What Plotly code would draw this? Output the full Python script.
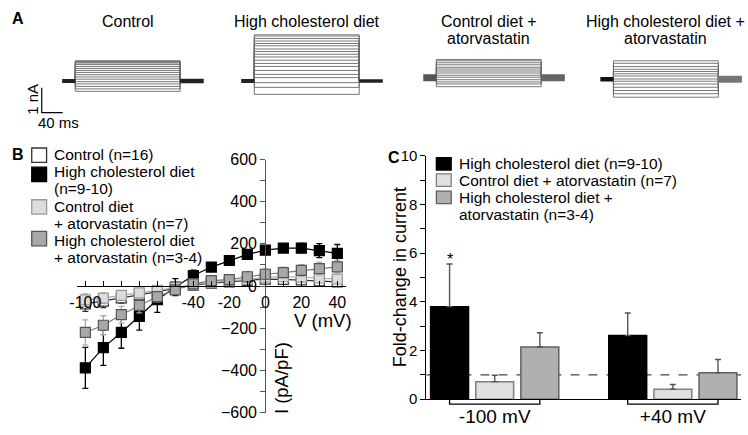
import plotly.graph_objects as go

W, H = 748, 435
FONT = "Liberation Sans, Arial, Helvetica, sans-serif"


def px(x):
    return x / W


def py(y):
    return 1 - y / H


# ---------------- Panel A: whole-cell current traces (nA, relative to holding) ----------------
a_titles = [["Control"], ["High cholesterol diet"],
            ["Control diet +", "atorvastatin"], ["High cholesterol diet +", "atorvastatin"]]
sweeps_control = [0.81, 0.78, 0.75, 0.72, 0.66, 0.58, 0.50, 0.42, 0.34, 0.25, 0.16, 0.07,
                  -0.03, -0.12, -0.22, -0.32, -0.42]
sweeps_hc = [1.85, 1.80, 1.70, 1.60, 1.50, 1.41, 1.28, 1.18, 1.07, 0.96, 0.83, 0.70, 0.58,
             0.42, 0.26, 0.13, -0.07, -0.26, -0.54]
sweeps_ca = [0.73, 0.68, 0.60, 0.52, 0.42, 0.35, 0.27, 0.19, 0.10, 0.02, -0.08, -0.17,
             -0.25, -0.36]
sweeps_hca = [0.74, 0.64, 0.51, 0.40, 0.31, 0.22, 0.13, 0.01, -0.08, -0.19, -0.32, -0.45,
              -0.58, -0.72]
a_sweeps = [sweeps_control, sweeps_hc, sweeps_ca, sweeps_hca]
protocol_ms = [-25, 0, 200, 245]      # holding start, step on, step off, end of tail
scale_bar_nA = 1
scale_bar_ms = 40

# ---------------- Panel B: I-V relationship (pA/pF) ----------------
voltages = [-100, -90, -80, -70, -60, -50, -40, -30, -20, -10, 0, 10, 20, 30, 40]
iv_control = [-85, -72, -56, -42, -27, -12, 4, 14, 20, 26, 33, 32, 29, 25, 20]
iv_control_err = [35, 30, 25, 20, 16, 12, 12, 12, 14, 16, 18, 20, 20, 20, 18]
iv_hc = [-388, -292, -220, -144, -65, -5, 50, 90, 121, 150, 170, 180, 180, 168, 155]
iv_hc_err = [97, 84, 75, 65, 60, 40, 25, 20, 15, 15, 18, 18, 22, 33, 42]
iv_ca = [-66, -57, -44, -32, -20, -8, 8, 18, 25, 32, 42, 44, 42, 38, 33]
iv_ca_err = [30, 26, 22, 18, 15, 12, 12, 14, 16, 18, 20, 22, 22, 22, 20]
iv_hca = [-220, -186, -136, -92, -50, -18, 10, 26, 30, 44, 56, 64, 74, 83, 91]
iv_hca_err = [60, 45, 40, 35, 25, 20, 18, 20, 20, 25, 25, 25, 28, 30, 30]
b_names = ["Control (n=16)", "High cholesterol diet<br>(n=9-10)",
           "Control diet<br>+ atorvastatin (n=7)", "High cholesterol diet<br>+ atorvastatin (n=3-4)"]
b_xtick_vals = [-100, -80, -60, -40, -20, 0, 20, 40]
b_xtick_text = ["-100", "", "", "-40", "-20", "0", "20", "40"]
b_xminor_vals = [-90, -70, -50, -30, -10, 10, 30]

# ---------------- Panel C: fold-change in current ----------------
c_groups = ["-100 mV", "+40 mV"]
fc_hc = [3.80, 2.61]
fc_hc_err = [1.75, 0.93]
fc_ca = [0.72, 0.41]
fc_ca_err = [0.26, 0.19]
fc_hca = [2.14, 1.08]
fc_hca_err = [0.59, 0.55]
fc_sig = ["*", ""]
fc_reference = 1
c_names = ["High cholesterol diet (n=9-10)", "Control diet + atorvastatin (n=7)",
           "High cholesterol diet +<br>atorvastatin (n=3-4)"]

# styles
S_CTRL = dict(fill="white", edge="#333333", line="#333333", err="#333333")
S_HC = dict(fill="black", edge="black", line="black", err="black")
S_CA = dict(fill="#dcdcdc", edge="#999999", line="#aaaaaa", err="#bbbbbb")
S_HCA = dict(fill="#a8a8a8", edge="#555555", line="#777777", err="#aaaaaa")
TXT = 15.5

fig = go.Figure()
annotations = []
shapes = []
layout_axes = {}


def note(text, x, y, size=TXT, xanchor="center", yanchor="middle", angle=0, **kw):
    d = dict(text=text, x=x, y=y, xref=kw.pop("xref", "paper"), yref=kw.pop("yref", "paper"),
             xanchor=xanchor, yanchor=yanchor, showarrow=False, textangle=angle,
             font=dict(size=size, color="black"))
    d.update(kw)
    annotations.append(d)


# ---------------- Panel A ----------------
MS_PX, NA_PX = 0.53, 26.0
T_RANGE = [-90, 250]
I_RANGE = [-1.55, 2.1]
a_t0_px = [68, 249, 433, 612]
a_hold_px = [75, 75, 71.7, 73.3]
a_hold_style = [(4, "#222222"), (4, "#222222"), (7, "#555555"), (4.5, "#111111")]
a_tail_style = [(4.5, "#222222"), (3.5, "#222222"), (7, "#666666"), (7, "#777777")]

t0, t1, t2, t3 = protocol_ms
for k in range(4):
    ax = 4 + k
    xs, ys = [], []
    for I in a_sweeps[k]:
        xs += [t1, t1, t2, t2, None]
        ys += [0, I, I, 0, None]
    fig.add_trace(go.Scatter(x=xs, y=ys, mode="lines", line=dict(color="#6a6a6a", width=0.9),
                             xaxis=f"x{ax}", yaxis=f"y{ax}", showlegend=False, hoverinfo="skip"))
    for (ta, tb), (lw, lc) in [((t0, t1), a_hold_style[k]), ((t2, t3), a_tail_style[k])]:
        fig.add_trace(go.Scatter(x=[ta, tb], y=[0, 0], mode="lines", line=dict(color=lc, width=lw),
                                 xaxis=f"x{ax}", yaxis=f"y{ax}", showlegend=False, hoverinfo="skip"))
    x0p = a_t0_px[k] + T_RANGE[0] * MS_PX
    x1p = a_t0_px[k] + T_RANGE[1] * MS_PX
    ytop = a_hold_px[k] - I_RANGE[1] * NA_PX
    ybot = a_hold_px[k] - I_RANGE[0] * NA_PX
    layout_axes[f"xaxis{ax}"] = dict(domain=[px(x0p), px(x1p)], range=T_RANGE, visible=False,
                                     anchor=f"y{ax}", fixedrange=True)
    layout_axes[f"yaxis{ax}"] = dict(domain=[py(ybot), py(ytop)], range=I_RANGE, visible=False,
                                     anchor=f"x{ax}", fixedrange=True)
    for j, line in enumerate(a_titles[k]):
        note(line, (t1 + t2) / 2, py(13 + 17.5 * j), size=16, xref=f"x{ax}")

# scale bar in the Control subplot
sb_t, sb_i = -64, -1.27
fig.add_trace(go.Scatter(x=[sb_t, sb_t, sb_t + scale_bar_ms],
                         y=[sb_i + scale_bar_nA, sb_i, sb_i], mode="lines",
                         line=dict(color="black", width=1.2), xaxis="x4", yaxis="y4",
                         showlegend=False, hoverinfo="skip"))
note(f"{scale_bar_nA} nA", px(24), py(94), size=15, angle=-90)
note(f"{scale_bar_ms} ms", px(51), py(118), size=15)

# ---------------- Panel B ----------------
BX0, BX1, BY0, BY1 = 70, 342, 157, 421
bx_range = [-104.5, 45]
by_range = [-600, 600]
bxd = [px(BX0), px(BX1)]
byd = [py(BY1), py(BY0)]
x_axis_pos = byd[0] + (0 - by_range[0]) / (by_range[1] - by_range[0]) * (byd[1] - byd[0])
y_axis_pos = bxd[0] + (0 - bx_range[0]) / (bx_range[1] - bx_range[0]) * (bxd[1] - bxd[0])

for vals, errs, st in [(iv_hc, iv_hc_err, S_HC), (iv_control, iv_control_err, S_CTRL),
                       (iv_ca, iv_ca_err, S_CA), (iv_hca, iv_hca_err, S_HCA)]:
    fig.add_trace(go.Scatter(
        x=voltages, y=vals, mode="lines+markers",
        line=dict(color=st["line"], width=1.2),
        marker=dict(symbol="square", size=10, color=st["fill"], line=dict(color=st["edge"], width=1.2)),
        error_y=dict(type="data", array=errs, color=st["err"], thickness=1.3, width=3),
        xaxis="x", yaxis="y", showlegend=False, cliponaxis=False))

layout_axes["xaxis"] = dict(domain=bxd, range=bx_range, anchor="free", position=x_axis_pos,
                            showline=True, linecolor="black", linewidth=1.3, showgrid=False,
                            zeroline=False, ticks="inside", ticklen=5, tickwidth=1.3, tickcolor="black",
                            tickmode="array", tickvals=b_xtick_vals, ticktext=b_xtick_text,
                            minor=dict(tickmode="array", tickvals=b_xminor_vals, ticks="inside",
                                       ticklen=5, tickwidth=1.3, tickcolor="black"),
                            ticklabelstandoff=2,
                            tickfont=dict(size=16, color="black"), fixedrange=True)
layout_axes["yaxis"] = dict(domain=byd, range=by_range, anchor="free", position=y_axis_pos,
                            showline=True, linecolor="#555555", linewidth=1.3, showgrid=False,
                            zeroline=False, ticks="outside", ticklen=5, tickwidth=1.3,
                            tickcolor="#555555", dtick=200, tick0=0,
                            minor=dict(dtick=100, ticks="outside", ticklen=5, tickwidth=1.3,
                                       tickcolor="#555555"),
                            tickfont=dict(size=16, color="black"), fixedrange=True)
note("V (mV)", px(318), py(325), size=18.5)
note("I (pA/pF)", px(276), py(385), size=18.5, angle=-90)

# legend B (drawn manually to keep the compact line spacing)
b_styles = [S_CTRL, S_HC, S_CA, S_HCA]
b_box_top = [145, 165, 199, 232]
b_line_y = [[152], [170, 187.5], [206, 224], [241.5, 259]]
for name, st, bt, ly in zip(b_names, b_styles, b_box_top, b_line_y):
    shapes.append(dict(type="rect", xref="paper", yref="paper", x0=px(24), x1=px(39),
                       y0=py(bt + 15), y1=py(bt), fillcolor=st["fill"],
                       line=dict(color=st["edge"], width=1.3)))
    for line, yy in zip(name.split("<br>"), ly):
        note(line, px(44), py(yy), xanchor="left")

# ---------------- Panel C ----------------
CX0, CX1, CY0, CY1 = 423, 741, 153, 407
BARGAP, BARGROUPGAP = 0.24, 0.16
slot = (1 - BARGAP) / 3
c_x = list(range(len(c_groups)))
c_styles = [dict(fill="black", edge="black"), dict(fill="#e0e0e0", edge="#808080"),
            dict(fill="#b0b0b0", edge="#606060")]
for vals, errs, st, name in [(fc_hc, fc_hc_err, c_styles[0], c_names[0]),
                             (fc_ca, fc_ca_err, c_styles[1], c_names[1]),
                             (fc_hca, fc_hca_err, c_styles[2], c_names[2])]:
    fig.add_trace(go.Bar(x=c_x, y=vals, name=name,
                         marker=dict(color=st["fill"], line=dict(color=st["edge"], width=1.5)),
                         error_y=dict(type="data", symmetric=False, array=errs,
                                      arrayminus=[0] * len(errs), color="#555555",
                                      thickness=1.4, width=3),
                         xaxis="x3", yaxis="y3", showlegend=False))

layout_axes["xaxis3"] = dict(domain=[px(CX0), px(CX1)], range=[-0.5 + 0.117, len(c_groups) - 0.5 - 0.117],
                             anchor="y3", showline=True, linecolor="black", linewidth=1.3,
                             showgrid=False, zeroline=False, ticks="", tickmode="array",
                             tickvals=c_x, ticktext=c_groups, tickfont=dict(size=19, color="black"),
                             fixedrange=True)
layout_axes["yaxis3"] = dict(domain=[py(CY1), py(CY0)], range=[0, 10], anchor="x3", showline=True,
                             linecolor="black", linewidth=1.3, showgrid=False, zeroline=False,
                             ticks="outside", ticklen=5, tickwidth=1.3, tickcolor="black", dtick=2,
                             minor=dict(dtick=1, ticks="outside", ticklen=5, tickwidth=1.3,
                                        tickcolor="black"),
                             tickfont=dict(size=15, color="black"), fixedrange=True)

# reference line at fold-change = 1
shapes.append(dict(type="line", xref="x3 domain", x0=0, x1=1, yref="y3", y0=fc_reference,
                   y1=fc_reference, line=dict(color="#444444", width=1.3, dash="dash"), layer="below"))
# brackets under each group
for g in c_x:
    shapes.append(dict(type="path", xref="x3", yref="y3 domain",
                       path=f"M {g - slot},0 L {g - slot},-0.02 L {g + slot},-0.02 L {g + slot},0",
                       line=dict(color="black", width=1.3)))
# significance marks
for g, s in zip(c_x, fc_sig):
    if s:
        note(s, g - slot, fc_hc[g] + fc_hc_err[g], size=16, yanchor="bottom", yshift=-6,
             xref="x3", yref="y3")
note("Fold-change in current", px(397), py(280), size=18, angle=-90)

# legend C
c_box_top = [155, 172, 190]
c_line_y = [[161], [179], [197, 214.5]]
for name, st, bt, ly in zip(c_names, c_styles, c_box_top, c_line_y):
    shapes.append(dict(type="rect", xref="paper", yref="paper", x0=px(433), x1=px(448),
                       y0=py(bt + 13), y1=py(bt), fillcolor=st["fill"],
                       line=dict(color=st["edge"], width=1.3)))
    for line, yy in zip(name.split("<br>"), ly):
        note(line, px(454), py(yy), xanchor="left")

# panel letters
for letter, (lx, ly) in zip("ABC", [(10, 10), (10, 152), (390, 155)]):
    note(f"<b>{letter}</b>", px(lx), py(ly), size=16)

fig.update_layout(
    width=W, height=H, margin=dict(l=0, r=0, t=0, b=0),
    paper_bgcolor="white", plot_bgcolor="white",
    font=dict(family=FONT, color="black", size=15),
    barmode="group", bargap=BARGAP, bargroupgap=BARGROUPGAP,
    showlegend=False, annotations=annotations, shapes=shapes,
    **layout_axes,
)

fig.write_html("out.html", config={"displayModeBar": False},
               post_script="document.body.style.margin='0px';document.body.style.overflow='hidden';")
